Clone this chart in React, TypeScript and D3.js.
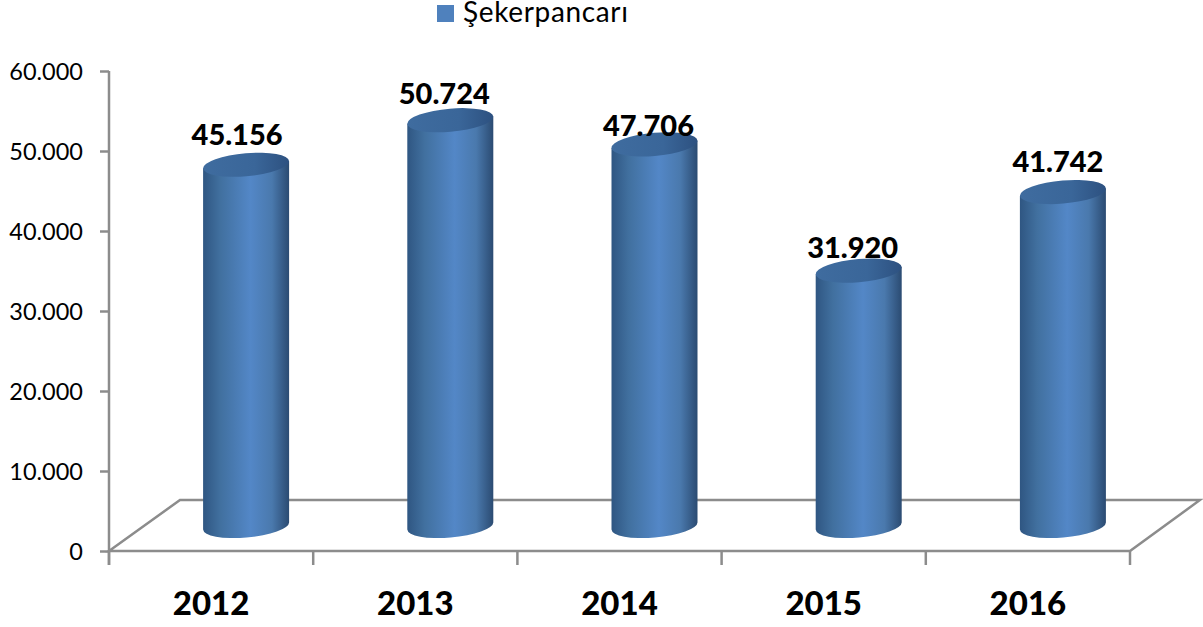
import React, { useEffect, useRef } from 'react';
import * as d3 from 'd3';

const years = ['2012', '2013', '2014', '2015', '2016'];
const values = [45156, 50724, 47706, 31920, 41742];
const yTicks = [0, 10000, 20000, 30000, 40000, 50000, 60000];
const seriesName = 'Şekerpancarı';
// labels in the original do not sit at a constant distance from the cylinder
const labelLift = [30, 26, 19, 23, 30];
const labelShift = [-9, -6, -6, -6, -5];

const width = 1203;
const height = 627;
const font = 'Lato, "Open Sans", sans-serif';
const axisColor = '#8c8c8c';

const depthX = 35;
const floorDepth = 51;
const baseLift = 25;
const barHalf = 43;
const tilt = 3.6;
const ry = 11.5;

const locale = d3.formatLocale({ decimal: ',', thousands: '.', grouping: [3], currency: ['', ''] });
const fmt = locale.format(',d');

export default function App() {
    const area = useRef<SVGGElement>(null);

    const y = d3.scaleLinear().domain([0, 60000]).range([551, 71]);
    const x = d3.scaleBand().domain(years).range([109, 1130]);

    useEffect(() => {
        const g = d3.select(area.current);
        g.selectAll('*').remove();

        const yAxis = g.append('g')
            .attr('transform', 'translate(109,0)')
            .call(d3.axisLeft(y).tickValues(yTicks).tickSize(9).tickPadding(17).tickFormat(d => fmt(d as number)));
        yAxis.select('.domain').remove();
        yAxis.selectAll('line').attr('stroke', axisColor).attr('stroke-width', 2.5);
        yAxis.selectAll('text')
            .attr('fill', '#000')
            .attr('dy', '0.37em')
            .style('font-family', font)
            .style('font-size', '23.5px');

        const xAxis = g.append('g')
            .attr('transform', 'translate(0,551)')
            .call(d3.axisBottom(x).tickSize(0).tickPadding(41));
        xAxis.select('.domain').remove();
        xAxis.selectAll('text')
            .attr('fill', '#000')
            .style('font-family', font)
            .style('font-size', '33px')
            .style('font-weight', 900);
    }, []);

    const left = x.range()[0];
    const right = x.range()[1];
    const front = y(0);
    const back = front - floorDepth;
    const edges = years.map(d => x(d) as number).concat(right);

    // cylinder body, tilted end ellipses like the office 3d shape
    const bodyPath = (cx: number, topY: number, baseY: number) =>
        `M${cx - barHalf},${topY + tilt}` +
        `L${cx - barHalf},${baseY + tilt}` +
        `A${barHalf},${ry} -5 0 0 ${cx + barHalf},${baseY - tilt}` +
        `L${cx + barHalf},${topY - tilt}Z`;
    const topPath = (cx: number, topY: number) =>
        `M${cx - barHalf},${topY + tilt}` +
        `A${barHalf},${ry} -5 1 1 ${cx + barHalf},${topY - tilt}` +
        `A${barHalf},${ry} -5 1 1 ${cx - barHalf},${topY + tilt}Z`;

    return (
        <svg width={width} height={height} style={{ position: 'absolute', left: 0, top: 0, background: '#fff' }}>
            <defs>
                <linearGradient id="body" x1="0" x2="1" y1="0" y2="0">
                    <stop offset="0" stopColor="#2f5682" />
                    <stop offset="0.2" stopColor="#41709f" />
                    <stop offset="0.55" stopColor="#5387c7" />
                    <stop offset="0.8" stopColor="#4a79ad" />
                    <stop offset="1" stopColor="#2b4b72" />
                </linearGradient>
                <linearGradient id="cap" x1="0" x2="1" y1="0" y2="0">
                    <stop offset="0" stopColor="#3f6c9f" />
                    <stop offset="0.6" stopColor="#3a6699" />
                    <stop offset="1" stopColor="#2d5180" />
                </linearGradient>
            </defs>

            <g fill="none" stroke={axisColor} strokeWidth={2.5}>
                <path d={`M${left},${front}L${left + 71},${back}L1200,${back}L${right},${front}Z`} />
                <line x1={left} x2={left} y1={y(60000)} y2={front + 14} />
                {edges.map((e, i) => (
                    <line key={i} x1={e} x2={e} y1={front} y2={front + 14} />
                ))}
            </g>

            <g ref={area} />

            {years.map((d, i) => {
                const cx = (x(d) as number) + x.bandwidth() / 2 + depthX;
                const topY = y(values[i]) - baseLift;
                const baseY = y(0) - baseLift;
                return (
                    <g key={d}>
                        <path d={bodyPath(cx, topY, baseY)} fill="url(#body)" />
                        <path d={topPath(cx, topY)} fill="url(#cap)" />
                        <text
                            x={cx + labelShift[i]}
                            y={topY - labelLift[i]}
                            dy="0.35em"
                            textAnchor="middle"
                            fontFamily={font}
                            fontSize={29}
                            fontWeight={900}
                            fill="#000"
                        >
                            {fmt(values[i])}
                        </text>
                    </g>
                );
            })}

            <rect x={437} y={5} width={17} height={17} fill="#4f81bd" />
            <text x={463} y={22} fontFamily={font} fontSize={28} letterSpacing={0.65} fill="#000">
                {seriesName}
            </text>
        </svg>
    );
}
